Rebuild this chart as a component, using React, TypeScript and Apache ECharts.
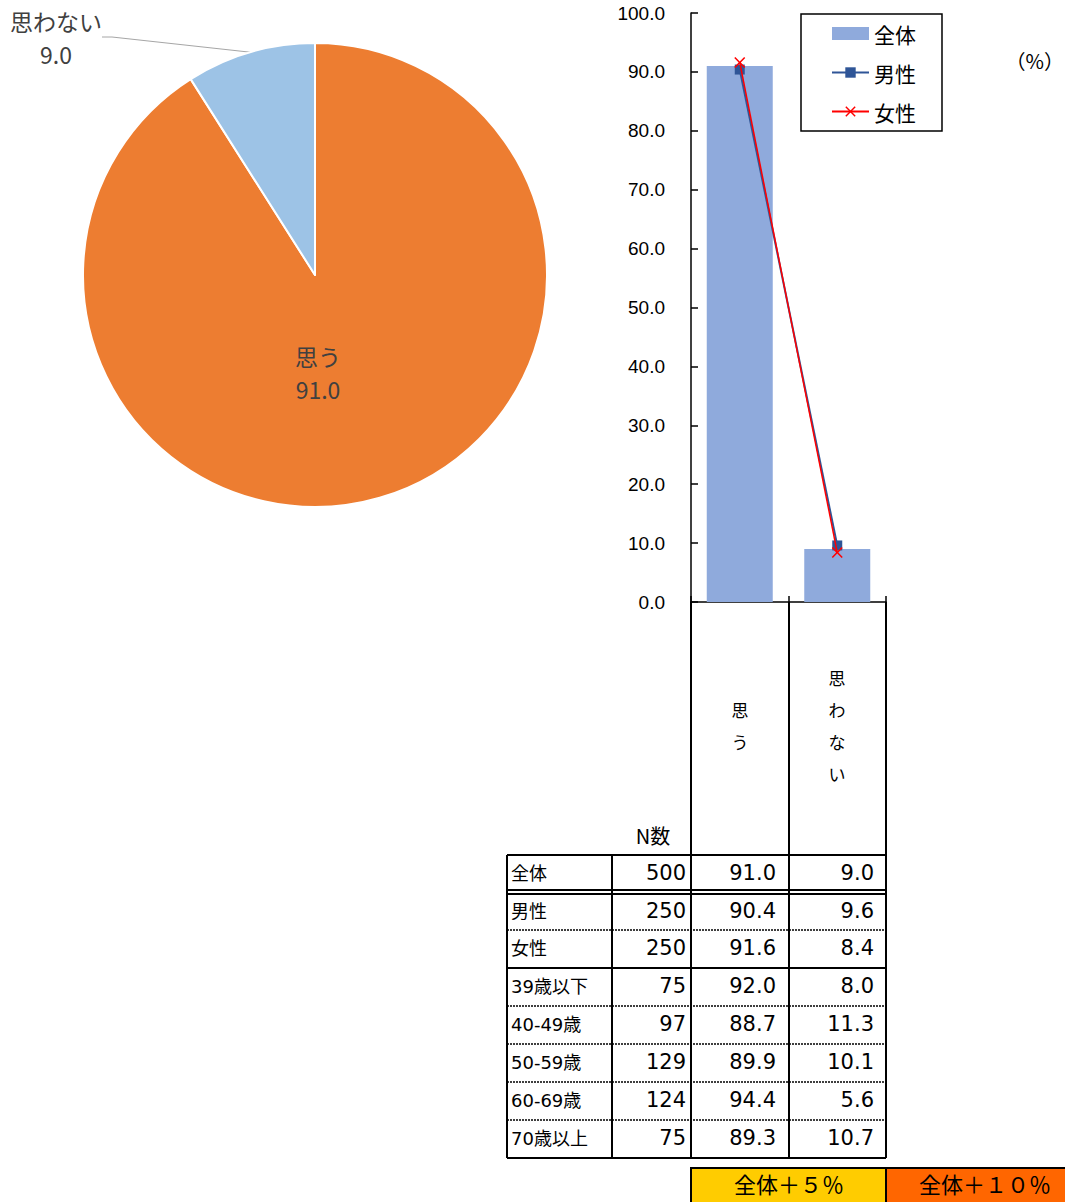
import React, { useEffect, useRef } from "react";
import * as echarts from "echarts";

const categories = ["思う", "思わない"];
const pieNames = ["思う", "思わない"];
const pieValues = [91.0, 9.0];
const totalValues = [91.0, 9.0];
const maleValues = [90.4, 9.6];
const femaleValues = [91.6, 8.4];
const rowLabels = ["全体", "男性", "女性", "39歳以下", "40-49歳", "50-59歳", "60-69歳", "70歳以上"];
const rowN = [500, 250, 250, 75, 97, 129, 124, 75];
const rowAgree = [91.0, 90.4, 91.6, 92.0, 88.7, 89.9, 94.4, 89.3];
const rowDisagree = [9.0, 9.6, 8.4, 8.0, 11.3, 10.1, 5.6, 10.7];
const highlightLabels = ["全体＋５％", "全体＋１０％"];

const JP = '"Noto Sans CJK JP", "Noto Sans", sans-serif';
const DV = '"DejaVu Sans", "Noto Sans CJK JP", sans-serif';
const AR = '"Liberation Sans", Arial, sans-serif';

function buildTable(): any[] {
  const els: any[] = [];
  const line = (x1: number, y1: number, x2: number, y2: number, w = 2, dash?: number[]) => {
    els.push({
      type: "line",
      shape: { x1, y1, x2, y2 },
      style: { stroke: "#000", lineWidth: w, lineDash: dash },
      z: 10,
    });
  };
  const cols = [507, 612, 691, 789, 886];
  const rowTops = [855, 894, 930, 968, 1006, 1044, 1082, 1120];
  const bottom = 1158;
  // header vertical lines
  line(691, 602, 691, 855);
  line(789, 602, 789, 855);
  line(886, 602, 886, 855);
  // header texts
  els.push({
    type: "text",
    x: 653,
    y: 835,
    style: { text: "N数", fontSize: 20, fontFamily: JP, fill: "#000", align: "center", verticalAlign: "middle" },
  });
  els.push({
    type: "text",
    x: 740,
    y: 725,
    style: {
      text: categories[0].split("").join("\n"),
      fontSize: 17,
      lineHeight: 32,
      fontFamily: JP,
      fill: "#000",
      align: "center",
      verticalAlign: "middle",
    },
  });
  els.push({
    type: "text",
    x: 837,
    y: 725,
    style: {
      text: categories[1].split("").join("\n"),
      fontSize: 17,
      lineHeight: 32,
      fontFamily: JP,
      fill: "#000",
      align: "center",
      verticalAlign: "middle",
    },
  });
  // outer box
  line(cols[0], rowTops[0], cols[4], rowTops[0]);
  line(cols[0], bottom, cols[4], bottom);
  cols.forEach((x) => line(x, rowTops[0], x, bottom));
  // separators
  line(cols[0], 890, cols[4], 890);
  line(cols[0], 894, cols[4], 894);
  line(cols[0], 930, cols[4], 930, 1.5, [2, 1]);
  line(cols[0], 968, cols[4], 968);
  [1006, 1044, 1082, 1120].forEach((y) => line(cols[0], y, cols[4], y, 1.5, [2, 1]));
  rowLabels.forEach((lab, i) => {
    const top = rowTops[i];
    const bot = i + 1 < rowTops.length ? rowTops[i + 1] : bottom;
    const cy = i === 0 ? 873 : (top + bot) / 2 - 1;
    els.push({
      type: "text",
      x: 511,
      y: cy,
      style: { text: lab, fontSize: 18, fontFamily: DV, fill: "#000", align: "left", verticalAlign: "middle" },
    });
    els.push({
      type: "text",
      x: 686,
      y: cy,
      style: { text: String(rowN[i]), fontSize: 21, fontFamily: DV, fill: "#000", align: "right", verticalAlign: "middle" },
    });
    els.push({
      type: "text",
      x: 776,
      y: cy,
      style: { text: rowAgree[i].toFixed(1), fontSize: 21, fontFamily: DV, fill: "#000", align: "right", verticalAlign: "middle" },
    });
    els.push({
      type: "text",
      x: 874,
      y: cy,
      style: { text: rowDisagree[i].toFixed(1), fontSize: 21, fontFamily: DV, fill: "#000", align: "right", verticalAlign: "middle" },
    });
  });
  // highlight legend boxes
  els.push({
    type: "rect",
    shape: { x: 691, y: 1168, width: 195, height: 36 },
    style: { fill: "#FFCC00", stroke: "#000", lineWidth: 2 },
  });
  els.push({
    type: "rect",
    shape: { x: 886, y: 1168, width: 182, height: 36 },
    style: { fill: "#FF6600", stroke: "#000", lineWidth: 2 },
  });
  els.push({
    type: "text",
    x: 789,
    y: 1183,
    style: { text: highlightLabels[0], fontSize: 22, fontFamily: JP, fill: "#000", align: "center", verticalAlign: "middle" },
  });
  els.push({
    type: "text",
    x: 985,
    y: 1183,
    style: { text: highlightLabels[1], fontSize: 22, fontFamily: JP, fill: "#000", align: "center", verticalAlign: "middle" },
  });
  // percent unit
  els.push({
    type: "text",
    x: 1064,
    y: 60,
    style: { text: "（%）", fontSize: 20, fontFamily: JP, fill: "#000", align: "right", verticalAlign: "middle" },
  });
  return els;
}

export default function App() {
  const ref = useRef<HTMLDivElement>(null);
  useEffect(() => {
    if (!ref.current) return;
    const chart = echarts.init(ref.current, undefined, { renderer: "svg" });
    const xSymbol = "path://M0,1L1,0L5,4L9,0L10,1L6,5L10,9L9,10L5,6L1,10L0,9L4,5Z";
    chart.setOption({
      animation: false,
      backgroundColor: "#fff",
      grid: { left: 691, top: 13, width: 195, height: 589, containLabel: false },
      legend: {
        data: [{ name: "全体", icon: "rect" }, { name: "男性" }, { name: "女性" }],
        orient: "vertical",
        left: 801,
        top: 14,
        padding: [7, 26, 7, 30],
        itemWidth: 37,
        itemHeight: 13,
        itemGap: 14,
        borderColor: "#000",
        borderWidth: 1.5,
        textStyle: { fontSize: 21, lineHeight: 25, fontFamily: JP, color: "#000" },
      },
      xAxis: {
        type: "category",
        data: categories,
        axisLine: { lineStyle: { color: "#000", width: 1.5 } },
        axisTick: { show: true, inside: true, length: 6, lineStyle: { color: "#000", width: 1.5 } },
        axisLabel: { show: false },
      },
      yAxis: {
        type: "value",
        min: 0,
        max: 100,
        interval: 10,
        splitLine: { show: false },
        axisLine: { show: true, lineStyle: { color: "#000", width: 1.5 } },
        axisTick: { show: true, inside: true, length: 7, lineStyle: { color: "#000", width: 1.5 } },
        axisLabel: {
          margin: 26,
          fontSize: 19,
          fontFamily: AR,
          color: "#000",
          formatter: (v: number) => v.toFixed(1),
        },
      },
      series: [
        {
          type: "pie",
          name: "pie",
          center: [315, 275],
          radius: 232,
          startAngle: 90,
          clockwise: true,
          data: pieNames.map((n, i) => ({ name: n, value: pieValues[i] })),
          color: ["#ED7D31", "#9DC3E6"],
          itemStyle: { borderColor: "#fff", borderWidth: 2 },
          label: {
            show: true,
            fontSize: 23,
            lineHeight: 33,
            fontFamily: JP,
            color: "#404040",
            formatter: (p: any) => `${p.name}\n${Number(p.value).toFixed(1)}`,
          },
          labelLine: { show: true, lineStyle: { color: "#A6A6A6", width: 1 }, length: 10, length2: 10 },
          labelLayout: (params: any) =>
            params.dataIndex === 0
              ? { x: 318, y: 372, align: "center", verticalAlign: "middle" }
              : { x: 56, y: 37, align: "center", verticalAlign: "middle" },
          emphasis: { disabled: true },
        },
        {
          type: "bar",
          name: "全体",
          data: totalValues,
          barWidth: 66,
          itemStyle: { color: "#8FAADC" },
        },
        {
          type: "line",
          name: "男性",
          data: maleValues,
          symbol: "rect",
          symbolSize: 10,
          lineStyle: { color: "#2F5597", width: 2 },
          itemStyle: { color: "#2F5597" },
          z: 3,
        },
        {
          type: "line",
          name: "女性",
          data: femaleValues,
          symbol: xSymbol,
          symbolSize: 11,
          lineStyle: { color: "#FF0000", width: 1.5 },
          itemStyle: { color: "#FF0000" },
          z: 4,
        },
      ],
      graphic: buildTable(),
    });
    return () => chart.dispose();
  }, []);
  return (
    <div
      ref={ref}
      style={{ position: "absolute", left: 0, top: 0, width: 1065, height: 1202, background: "#fff" }}
    />
  );
}
